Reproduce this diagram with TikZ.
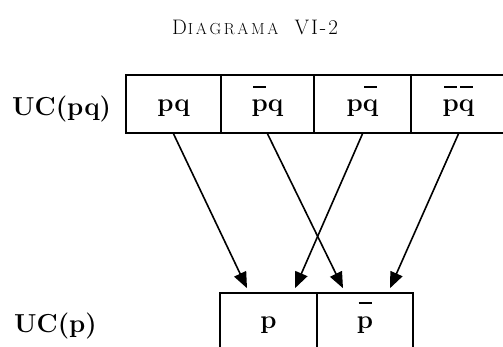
\documentclass[tikz,border=0pt]{standalone}
\usepackage{fontspec}
\usetikzlibrary{arrows.meta}
\newcommand{\ob}[1]{\ooalign{#1\cr\hidewidth\rule[0.92em]{0.5em}{1.9pt}\hidewidth\cr}}
\begin{document}
\begin{tikzpicture}[x=1pt,y=-1pt,
  cell/.style={draw, line width=1.6pt, minimum height=58pt, inner sep=0pt,
    font=\fontsize{26}{26}\selectfont\bfseries},
  toprow/.style={cell, text height=18pt, text depth=2pt},
  botrow/.style={cell, text height=14pt, text depth=2pt},
  rowlab/.style={font=\fontsize{26}{26}\selectfont\bfseries, anchor=base west, inner sep=0pt},
  ttl/.style={anchor=base, inner sep=0pt},
  arr/.style={line width=1.6pt, -{Triangle[length=16pt,width=13pt]}}
]
\useasboundingbox (0,0) rectangle (503,347);
\clip (0,0) rectangle (503,347);

\node[ttl] (title) at (255,35) {{\fontsize{21}{21}\selectfont D}\kern1pt{\fontsize{16}{16}\selectfont I\,A\,G\,R\,A\,M\,A}\hspace{16pt}{\fontsize{21}{21}\selectfont V\kern2pt I\kern2pt -\kern2pt 2}};

\node[rowlab] (uc1) at (12,116) {UC(pq)};
\node[rowlab] (uc2) at (14,332) {UC(p)};

\node[toprow, minimum width=95pt] (c1) at (173.5,104) {pq};
\node[toprow, minimum width=93pt] (c2) at (267.5,104) {\ob{p}q};
\node[toprow, minimum width=97pt] (c3) at (362.5,104) {p\ob{q}};
\node[toprow, minimum width=95pt] (c4) at (458.5,104) {\ob{p}\ob{q}};

\node[botrow, minimum width=97pt] (b1) at (268.5,322) {p};
\node[botrow, minimum width=96pt] (b2) at (365,322) {\ob{p}};

\draw[arr] (c1.south) -- ([xshift=-21.5pt,yshift=4pt]b1.north);
\draw[arr] (c2.south) -- ([xshift=-22pt,yshift=4pt]b2.north);
\draw[arr] (c3.south) -- ([xshift=26.5pt,yshift=4pt]b1.north);
\draw[arr] (c4.south) -- ([xshift=25pt,yshift=4pt]b2.north);
\end{tikzpicture}
\end{document}
